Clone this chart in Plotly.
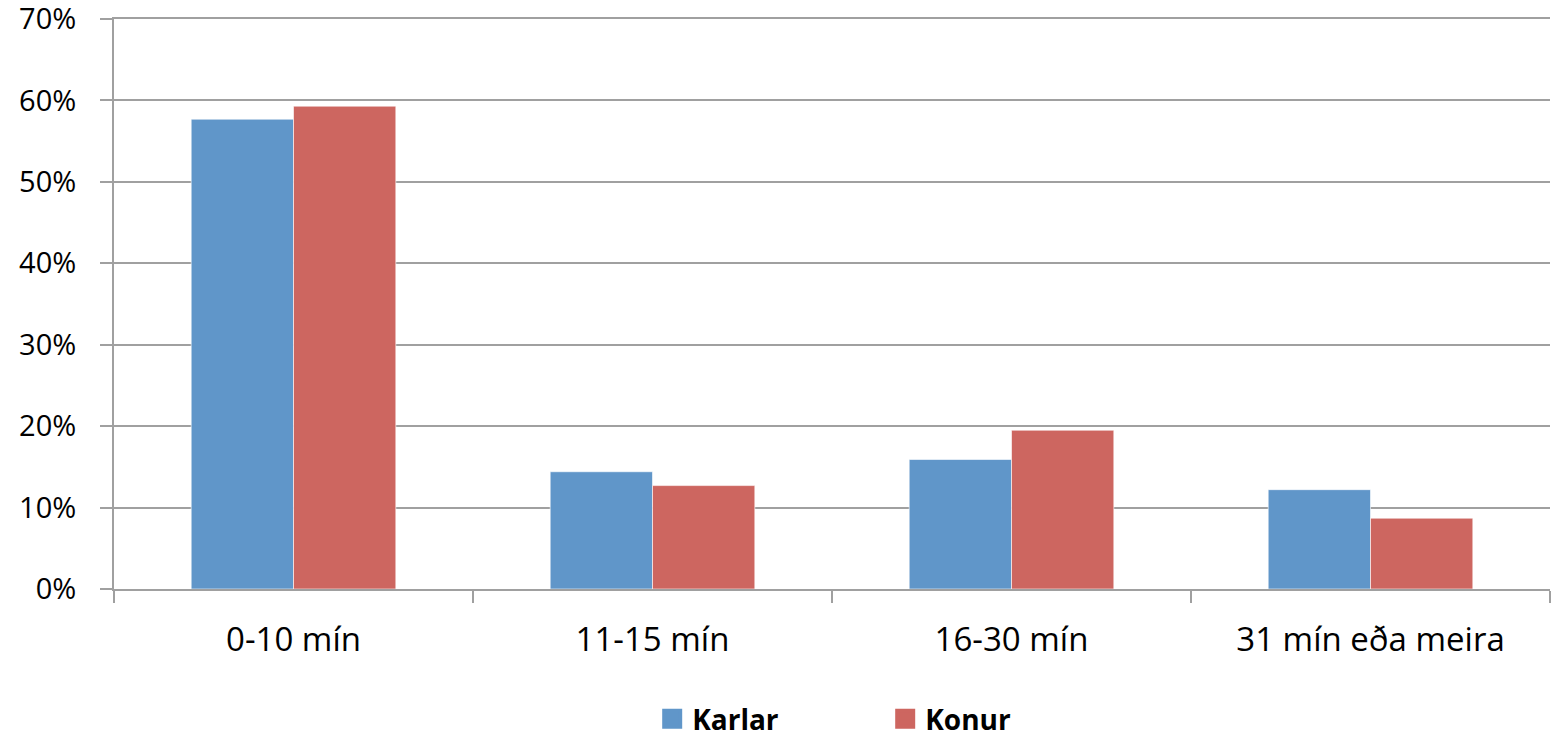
import plotly.graph_objects as go

categories = ["0-10 mín", "11-15 mín", "16-30 mín", "31 mín eða meira"]
karlar = [0.577, 0.144, 0.159, 0.122]
konur = [0.593, 0.127, 0.195, 0.087]
series_names = ["Karlar", "Konur"]
colors = ["#6096C9", "#CD6660"]
y_ticks = [0, 0.1, 0.2, 0.3, 0.4, 0.5, 0.6, 0.7]
y_tick_labels = ["0%", "10%", "20%", "30%", "40%", "50%", "60%", "70%"]

font_family = "Open Sans, Liberation Sans, sans-serif"

fig = go.Figure()
for name, vals, col in zip(series_names, [karlar, konur], colors):
    fig.add_trace(go.Bar(
        x=categories, y=vals, name=name, marker_color=col,
        marker_line=dict(color="rgba(255,255,255,0.6)", width=1),
        showlegend=False,
    ))
# legend entries with square symbols
for name, col in zip(series_names, colors):
    fig.add_trace(go.Scatter(
        x=[None], y=[None], mode="markers", name=name,
        marker=dict(symbol="square", size=21, color=col, line=dict(color=col, width=4)),
    ))

fig.update_layout(
    template="none",
    width=1551, height=738,
    margin=dict(l=114, r=1, t=19, b=149, autoexpand=False),
    paper_bgcolor="white", plot_bgcolor="white",
    barmode="group", bargap=0.43, bargroupgap=0,
    font=dict(family=font_family, size=33, color="black"),
    legend=dict(
        orientation="h", xref="container", x=0.4205, xanchor="left",
        yref="paper", y=-0.228, yanchor="middle",
        font=dict(family=font_family, size=28, color="black", weight="bold"),
        entrywidth=188, entrywidthmode="pixels", itemwidth=30,
        bgcolor="rgba(0,0,0,0)",
    ),
    xaxis=dict(
        type="category", showgrid=False, automargin=False,
        showline=True, mirror=True, linecolor="#A0A0A0", linewidth=2,
        ticks="outside", tickson="boundaries", ticklen=12, tickcolor="#A0A0A0", tickwidth=2,
        tickfont=dict(size=33), range=[-0.5, 3.5], ticklabelstandoff=20,
    ),
    yaxis=dict(
        range=[0, 0.7], tickvals=y_ticks, ticktext=y_tick_labels, automargin=False,
        showgrid=True, gridcolor="#A0A0A0", gridwidth=2,
        showline=True, linecolor="#A0A0A0", linewidth=2,
        ticks="outside", ticklen=12, tickcolor="#A0A0A0", tickwidth=2,
        tickfont=dict(size=29), zeroline=False, ticklabelstandoff=18,
        ticklabeloverflow="allow",
    ),
)

fig.write_html("out.html", config={"displayModeBar": False},
               post_script="document.body.style.margin='0';")
